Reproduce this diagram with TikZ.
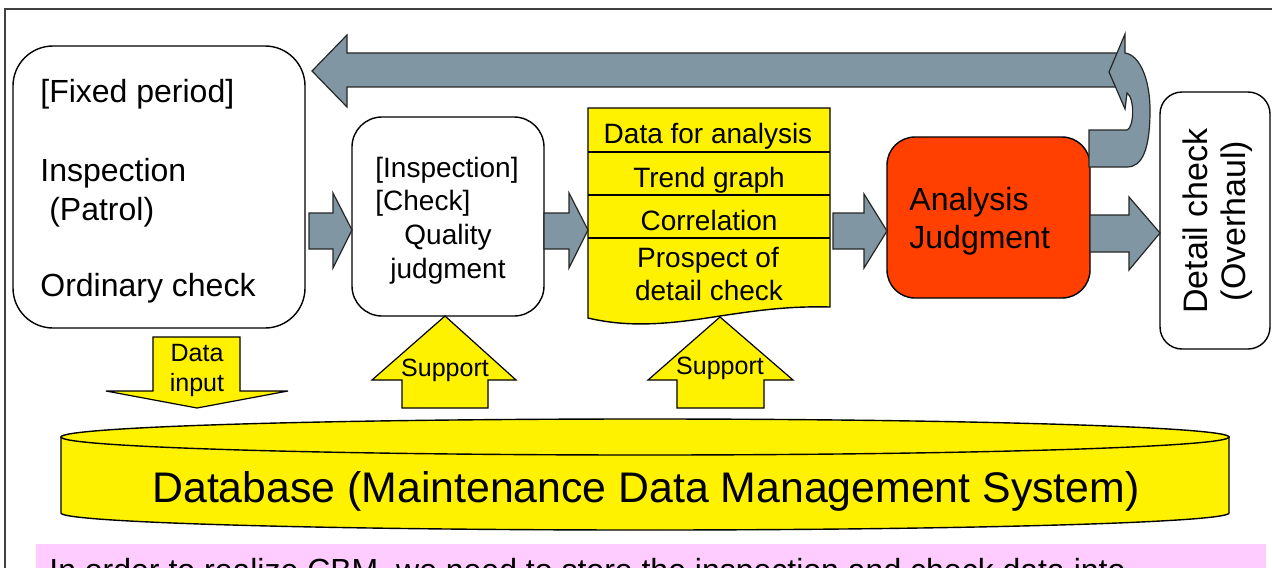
\documentclass[tikz,border=0pt]{standalone}
\usepackage{fontspec}
\setmainfont{Liberation Sans}
\definecolor{arrowgray}{RGB}{128,150,162}
\definecolor{orangered}{RGB}{255,64,0}
\definecolor{pinkbg}{RGB}{255,204,255}
\begin{document}
\begin{tikzpicture}[x=0.5pt,y=-0.5pt,line join=miter,
  grayarrow/.style={fill=arrowgray,draw=black!85,line width=0.6pt},
  yelarrow/.style={fill=yellow,draw=black,line width=0.6pt},
  boxw/.style={draw=black,line width=0.7pt,fill=white,inner sep=0pt},
  txt/.style={inner sep=0pt,anchor=base west},
  ctxt/.style={inner sep=0pt,anchor=base}]
\useasboundingbox (0,0) rectangle (1272,567);
\clip (0,0) rectangle (1272,567);
% frame
\draw[line width=0.6pt,black!75] (5,9) rectangle (1290,620);
% pink text bar
\fill[pinkbg] (36,544) rectangle (1266,620);
\node[txt,font=\fontsize{16}{19}\selectfont] (note) at (49,581) {In order to realize CBM,\ we need to store the inspection and check data into};

% database cylinder
\path[fill=yellow,draw=black,line width=0.7pt] (61,437) -- (61,513) arc[start angle=180,end angle=0,x radius=584,y radius=17] -- (1229,437) -- cycle;
\draw[fill=yellow,line width=0.7pt] (645,437) ellipse [x radius=584,y radius=18];
\node[ctxt,font=\fontsize{21.4}{25}\selectfont] (db) at (646,502) {Database (Maintenance Data Management System)};

% big feedback arrow
\draw[grayarrow] (1118,53) -- (347,53) -- (347,35) -- (312,71) -- (347,107) -- (347,87) -- (1118,87) -- cycle;

% box 1
\node[boxw,rounded corners=20pt,minimum width=146pt,minimum height=141pt] (box1) at (159,187) {};
\begin{scope}[font=\fontsize{16}{19}\selectfont]
\node[txt] (b1a) at (40,103) {[Fixed period]};
\node[txt] (b1b) at (40,181) {Inspection};
\node[txt] (b1c) at (40,220) {\ (Patrol)};
\node[txt] (b1d) at (40,296) {Ordinary check};
\end{scope}

% box 2
\node[boxw,rounded corners=15pt,minimum width=96pt,minimum height=99.5pt] (box2) at (448,216.5) {};
\begin{scope}[font=\fontsize{14}{17}\selectfont]
\node[txt] (b2a) at (375,177) {[Inspection]};
\node[txt] (b2b) at (375,210) {[Check]};
\node[txt] (b2c) at (404,244) {Quality};
\node[txt] (b2d) at (390,278) {judgment};
\end{scope}

% data list (document shape)
\coordinate (listTL) at (588,108);
\path[fill=yellow,draw=black,line width=0.7pt] (listTL) -- (830,108) -- (830,307)
  .. controls (790,306) and (760,310) .. (720,316)
  .. controls (670,324) and (630,328) .. (588,318) -- cycle;
\draw[line width=0.7pt] (588,152) -- (830,152) (588,195) -- (830,195) (588,238) -- (830,238);
\begin{scope}[font=\fontsize{14}{17}\selectfont]
\node[ctxt] (l1) at (708,143) {Data for analysis};
\node[ctxt] (l2) at (709,187) {Trend graph};
\node[ctxt] (l3) at (709,230) {Correlation};
\node[ctxt] (l4) at (708,267) {Prospect of};
\node[ctxt] (l5) at (709,300) {detail check};
\end{scope}

% analysis box
\node[draw=black,line width=0.7pt,fill=orangered,rounded corners=14pt,inner sep=0pt,minimum width=101.5pt,minimum height=80.5pt] (anal) at (988.5,217.5) {};
\begin{scope}[font=\fontsize{16}{19}\selectfont]
\node[txt] (an1) at (909,210) {Analysis};
\node[txt] (an2) at (909,248) {Judgment};
\end{scope}

% curved return arrow
\draw[grayarrow] (1089,167) -- (1089,130) -- (1127,130)
  .. controls (1134,128) and (1135,98) .. (1127,93) -- (1125,109) -- (1109,72) -- (1125,34) -- (1125,53)
  .. controls (1140,55) and (1150,80) .. (1150,110)
  .. controls (1150,150) and (1142,167) .. (1127,167) -- cycle;

% detail check box
\node[boxw,rounded corners=11pt,minimum width=55pt,minimum height=128.5pt] (detail) at (1215,220.5) {};
\node[rotate=90,align=center,inner sep=0pt,font=\fontsize{17}{19}\selectfont] (dtxt) at (1218,221) {Detail check\\(Overhaul)};

% flow arrows
\draw[grayarrow] (309,213) -- (333,213) -- (333,193) -- (352,230) -- (333,268) -- (333,249) -- (309,249) -- cycle;
\draw[grayarrow] (544,213) -- (569,213) -- (569,193) -- (588,230) -- (569,268) -- (569,249) -- (544,249) -- cycle;
\draw[grayarrow] (833,213) -- (864,213) -- (864,194) -- (887,231) -- (864,268) -- (864,249) -- (833,249) -- cycle;
\draw[grayarrow] (1090,215) -- (1129,215) -- (1129,197) -- (1160,233) -- (1129,270) -- (1129,252) -- (1090,252) -- cycle;

% yellow arrows
\draw[yelarrow] (153,337) -- (240,337) -- (240,391) -- (288,391) -- (197,408) -- (106,391) -- (153,391) -- cycle;
\draw[yelarrow] (402,408) -- (402,380) -- (372,380) -- (445,316) -- (516,380) -- (488,380) -- (488,408) -- cycle;
\draw[yelarrow] (677,408) -- (677,380) -- (648,380) -- (720,317) -- (793,380) -- (764,380) -- (764,408) -- cycle;
\begin{scope}[font=\fontsize{12.5}{15}\selectfont]
\node[ctxt] (di1) at (197,361) {Data};
\node[ctxt] (di2) at (197,391) {input};
\node[ctxt] (s1) at (445,376) {Support};
\node[ctxt] (s2) at (720,374) {Support};
\end{scope}
\end{tikzpicture}
\end{document}
